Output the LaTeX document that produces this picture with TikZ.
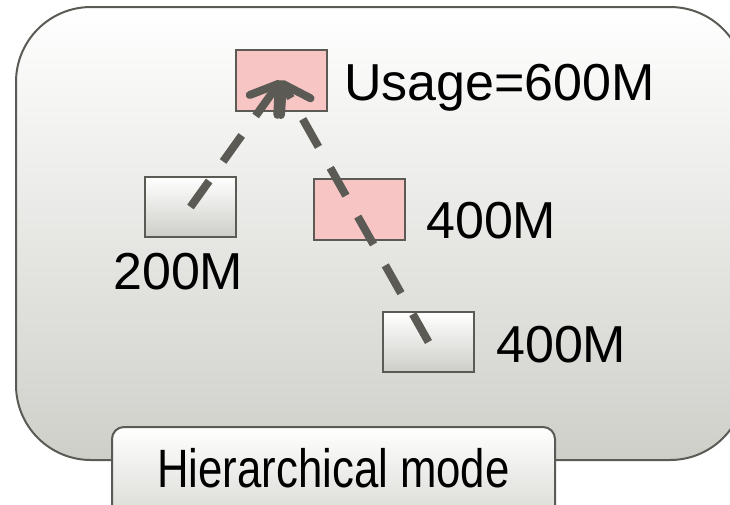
\documentclass[tikz,border=0pt]{standalone}
\usepackage{fontspec}
\setmainfont{Liberation Sans}
\usepackage{graphicx}
\usetikzlibrary{arrows.meta}
\definecolor{edge}{HTML}{5B5A54}
\definecolor{pinkfill}{HTML}{F8C5C5}
\definecolor{panelbottom}{HTML}{CFCFCA}
\definecolor{boxbottom}{HTML}{CDCDC8}
\tikzset{
  panel/.style={draw=edge, line width=2pt, rounded corners=75pt,
    top color=white, bottom color=panelbottom},
  quota/.style={draw=edge, line width=2pt, fill=pinkfill,
    minimum width=91pt, minimum height=61pt, inner sep=0pt},
  leaf/.style={draw=edge, line width=2pt, top color=white, bottom color=boxbottom,
    minimum width=91pt, minimum height=60pt, inner sep=0pt},
  labelbox/.style={draw=edge, line width=2pt, rounded corners=12pt,
    top color=white, bottom color=panelbottom!85!white,
    minimum width=443pt, minimum height=100pt, inner sep=0pt},
  amount/.style={font=\fontsize{52}{60}\selectfont, inner sep=0pt, anchor=base west},
  flow/.style={draw=edge, line width=8pt, dash pattern=on 32pt off 24pt,
    -{Straight Barb[length=26pt, width=34pt, round]}}
}
\begin{document}
\begin{tikzpicture}[x=1pt, y=-1pt]
  \useasboundingbox (0,0) rectangle (730,504);
  % outer panel
  \path[panel] (16,7) rectangle (745,460);
  % caption tab
  \node[labelbox] (modebox) at (333.5,477) {};
  \node[font=\fontsize{54}{60}\selectfont, inner sep=0pt, anchor=base] (modetext)
    at (333.5,487) {\scalebox{0.81}[1]{Hierarchical mode}};
  % quota boxes
  \node[quota] (root) at (281,80.5) {};
  \node[leaf] (left) at (190.5,207) {};
  \node[quota] (mid) at (359.5,209.5) {};
  \node[leaf] (low) at (428.5,342) {};
  % usage labels
  \node[amount] (rootlbl) at (344,100) {Usage=600M};
  \node[amount] (leftlbl) at (113,289) {200M};
  \node[amount] (midlbl) at (426,238) {400M};
  \node[amount] (lowlbl) at (496,362) {400M};
  % reporting arrows
  \draw[flow] (left.center) -- (root.center);
  \draw[flow] (low.center) -- (root.center);
\end{tikzpicture}
\end{document}
